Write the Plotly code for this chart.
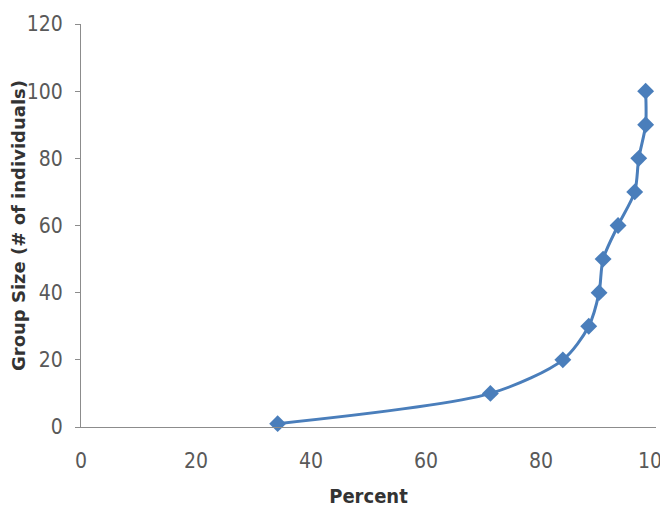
import plotly.graph_objects as go

percent = [34.2, 71.2, 83.8, 88.3, 90.1, 90.8, 93.4, 96.3, 97.0, 98.2, 98.2]
group_size = [1, 10, 20, 30, 40, 50, 60, 70, 80, 90, 100]
x_ticks = [0, 20, 40, 60, 80, 100]
y_ticks = [0, 20, 40, 60, 80, 100, 120]

BLUE = "#4a7ebb"
AXIS = "#8c8c8c"
NARROW = "Liberation Sans Narrow, Arial Narrow, DejaVu Sans Condensed"
TICKFONT = dict(family=NARROW, size=21, color="#595959")

fig = go.Figure()
fig.add_trace(go.Scatter(
    x=percent, y=group_size, mode="lines+markers",
    line=dict(color=BLUE, width=3, shape="spline", smoothing=0.8),
    marker=dict(symbol="diamond", size=13, color=BLUE),
    showlegend=False, cliponaxis=False,
))

# the page body has an 8px margin, so the figure is sized/offset to compensate
fig.update_layout(
    width=660, height=500,
    margin=dict(l=73, r=12, t=16, b=81),
    paper_bgcolor="white", plot_bgcolor="white",
    xaxis=dict(
        range=[0, 100], tickvals=x_ticks, showgrid=False, zeroline=False,
        showline=True, linecolor=AXIS, linewidth=1, automargin=False,
        ticks="", ticklabelstandoff=15, tickfont=TICKFONT,
        ticklabeloverflow="allow",
        title=dict(text="Percent", standoff=18,
                   font=dict(family=NARROW, size=20, color="#333333", weight="bold")),
    ),
    yaxis=dict(
        range=[0, 120], tickvals=y_ticks, showgrid=False, zeroline=False,
        showline=True, linecolor=AXIS, linewidth=1, automargin=False,
        ticks="outside", ticklen=5, tickcolor=AXIS, tickfont=TICKFONT,
        ticklabelstandoff=8,
        title=dict(text="Group Size (# of individuals)", standoff=3,
                   font=dict(family="DejaVu Sans", size=18, color="#333333", weight="bold")),
    ),
)

fig.write_html("out.html")
